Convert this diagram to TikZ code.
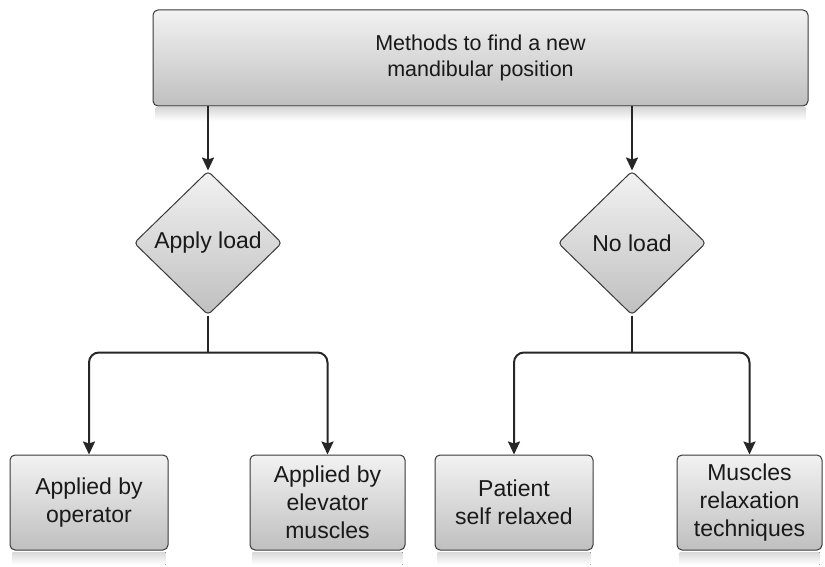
\documentclass[tikz,border=0pt]{standalone}
\usepackage{fontspec}
\setmainfont{Liberation Sans}
\usetikzlibrary{shapes.geometric,arrows.meta,calc}
\begin{document}
\begin{tikzpicture}[x=1pt,y=-1pt,
  boxnode/.style={rectangle, rounded corners=5pt, draw=gray!45!black, line width=1pt,
    top color=gray!10, bottom color=gray!50, align=center, text=black!90,
    font=\fontsize{23}{28}\selectfont, inner sep=0pt},
  dianode/.style={diamond, rounded corners=4pt, draw=gray!45!black, line width=1pt,
    top color=gray!10, bottom color=gray!50, text=black!90,
    font=\fontsize{23}{28}\selectfont, minimum width=148pt, minimum height=144pt, inner sep=0pt},
  conn/.style={line width=2pt, draw=black!85},
  arr/.style={conn, -{Stealth[length=13pt,width=12pt,inset=2pt]}},
  shad/.style={top color=gray!30, bottom color=white, draw=none}
]
\useasboundingbox (0,0) rectangle (825,567);

\node[boxnode, minimum width=655pt, minimum height=96pt, font=\fontsize{21.5}{26}\selectfont] (top) at (480.5,58) {Methods to find a new\\mandibular position};
\node[dianode] (d1) at (208,243) {Apply load};
\node[dianode] (d2) at (632,243) {No load};

\node[boxnode, minimum width=158pt, minimum height=95pt] (b1) at (89,502.5) {Applied by\\operator};
\node[boxnode, minimum width=155pt, minimum height=95pt] (b2) at (327.5,502.5) {Applied by\\elevator\\muscles};
\node[boxnode, minimum width=158pt, minimum height=95pt] (b3) at (514,502.5) {Patient\\self relaxed};
\node[boxnode, minimum width=145pt, minimum height=95pt] (b4) at (749.5,502.5) {Muscles\\relaxation\\techniques};

\foreach \b in {top,b1,b2,b3,b4}{
  \fill[shad] ($(\b.south west)+(3,1.5)$) rectangle ($(\b.south east)+(-3,14)$);
}

\draw[arr] (top.south -| d1.north) -- (d1.north);
\draw[arr] (top.south -| d2.north) -- (d2.north);

\draw[conn] (d1.south) -- ++(0,37) coordinate (j1);
\draw[conn] (d2.south) -- ++(0,37) coordinate (j2);
\draw[arr, rounded corners=10pt] (j1) -| (b1.north);
\draw[arr, rounded corners=10pt] (j1) -| (b2.north);
\draw[arr, rounded corners=10pt] (j2) -| (b3.north);
\draw[arr, rounded corners=10pt] (j2) -| (b4.north);
\end{tikzpicture}
\end{document}
